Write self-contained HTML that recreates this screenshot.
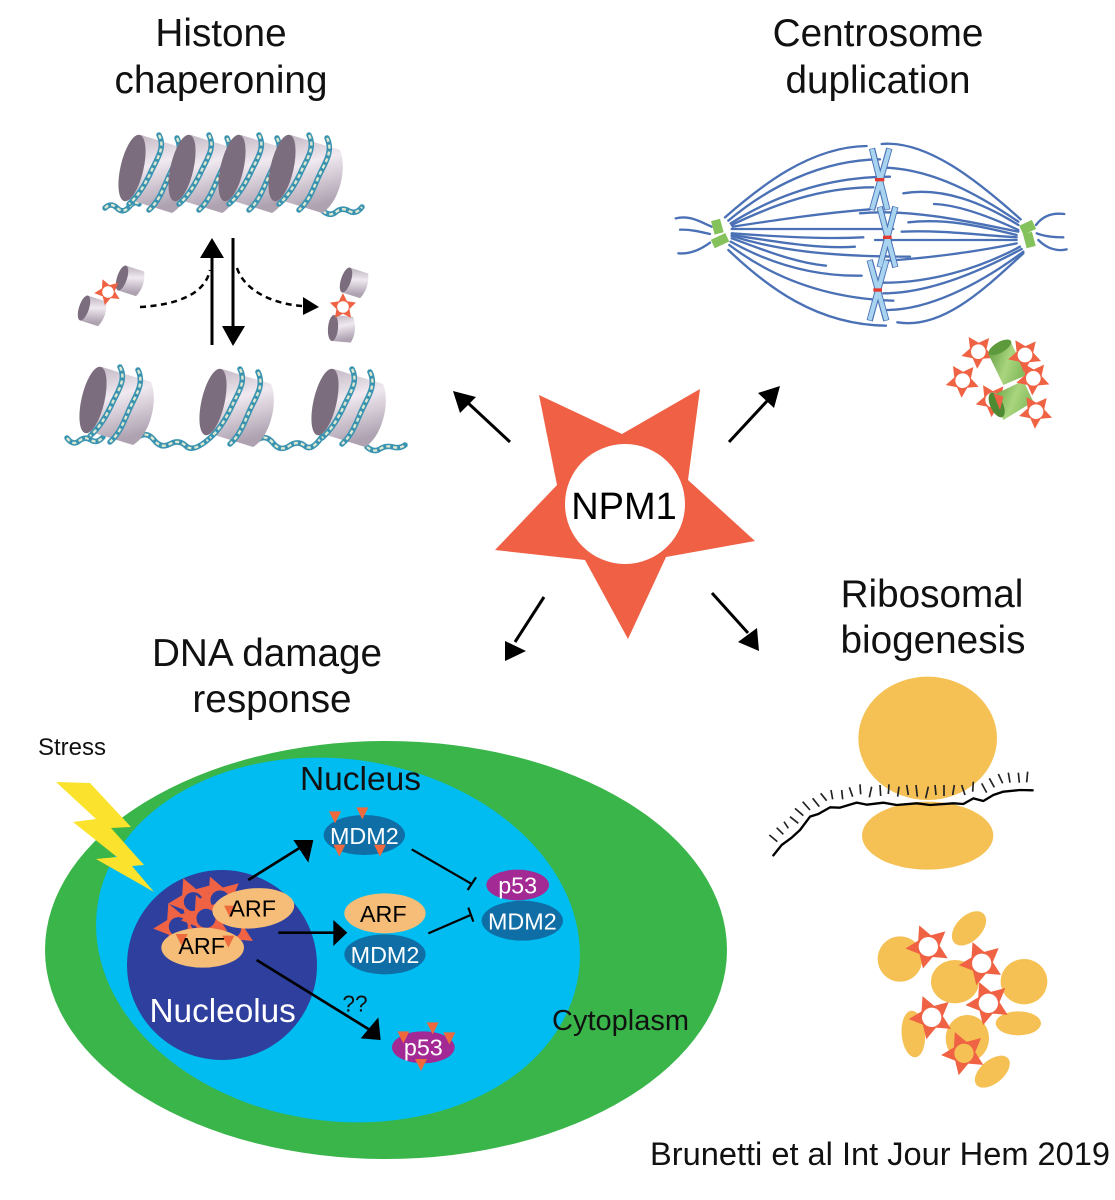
<!DOCTYPE html>
<html>
<head>
<meta charset="utf-8">
<style>
html,body{margin:0;padding:0;background:#fff;width:1115px;height:1200px;overflow:hidden}
svg{display:block}
text{font-family:"Liberation Sans",sans-serif}
.t{font-size:38.7px;fill:#111;text-anchor:middle}
.d1{fill:none;stroke:#3a93b0;stroke-width:5.5;stroke-linecap:round}
.d2{fill:none;stroke:#e0e8d0;stroke-width:2.4;stroke-dasharray:4 3}
.mt{fill:none;stroke:#4a70b5;stroke-width:7;stroke-linecap:round}
.tick{stroke:#222;stroke-width:5}
.blk{stroke:#000;fill:none}
</style>
</head>
<body>
<svg width="1115" height="1200" viewBox="0 0 1115 1200" xmlns="http://www.w3.org/2000/svg">
<defs>
<linearGradient id="cyl" x1="0" y1="0" x2="0.25" y2="1">
<stop offset="0" stop-color="#bdb2bf"/><stop offset=".45" stop-color="#f0e9f0"/><stop offset="1" stop-color="#aea2b1"/>
</linearGradient>
<linearGradient id="grn" x1="0" y1="0" x2="1" y2="0.4">
<stop offset="0" stop-color="#5f9a3e"/><stop offset=".6" stop-color="#a9d57e"/><stop offset="1" stop-color="#86bc5e"/>
</linearGradient>
<g id="nuc">
<path d="M9,-33 L58,-18 C66,2 56,36 40,45 L-8,30 Z" fill="url(#cyl)"/>
<ellipse cx="0" cy="0" rx="11.5" ry="34" transform="rotate(13)" fill="#7b6d7d"/>
<path class="d1" d="M27,-33 C34,-20 24,-8 18,6 C12,18 6,28 -3,36"/>
<path class="d2" d="M27,-33 C34,-20 24,-8 18,6 C12,18 6,28 -3,36"/>
<path class="d1" d="M45,-30 C52,-16 42,-4 36,10 C30,24 26,34 17,42"/>
<path class="d2" d="M45,-30 C52,-16 42,-4 36,10 C30,24 26,34 17,42"/>
</g>
<g id="h">
<path d="M0,-13 L19,-13 Q25,0 19,13 L0,13Z" fill="url(#cyl)"/>
<ellipse rx="5" ry="13" fill="#7b6d7d"/>
</g>
<polygon id="star" points="-86,-109 -3,-70 75,-115 63,-24 130,37 41,53 3,135 -40,56 -130,46 -68,-19" fill="#ef6243"/>
<g id="st"><use href="#star"/><circle r="58" fill="#fff"/></g>
<g id="sb"><use href="#star"/><circle r="52" fill="#2e3f9e"/></g>
<g id="so"><use href="#star"/><circle r="58" fill="#f5c154"/></g>
<polygon id="tri" points="-18,-18 18,-18 0,18" fill="#ee6a3d"/>
</defs>

<rect width="1115" height="1200" fill="#fff"/>

<!-- Titles -->
<text class="t" x="221" y="46">Histone</text>
<text class="t" x="221" y="93">chaperoning</text>
<text class="t" x="878" y="46">Centrosome</text>
<text class="t" x="878" y="93">duplication</text>
<text class="t" x="932" y="607">Ribosomal</text>
<text class="t" x="933" y="653">biogenesis</text>
<text class="t" x="267" y="666">DNA damage</text>
<text class="t" x="272" y="712">response</text>

<!-- Histone chaperoning -->
<path class="d1" d="M105,208 q6,-6 12,0 t12,-1 t10,-3"/>
<path class="d2" d="M105,208 q6,-6 12,0 t12,-1 t10,-3"/>
<path class="d1" d="M323,211 q7,6 13,1 t13,-1 t13,-4"/>
<path class="d2" d="M323,211 q7,6 13,1 t13,-1 t13,-4"/>
<use href="#nuc" x="132" y="168"/>
<use href="#nuc" x="182" y="168"/>
<use href="#nuc" x="232" y="168"/>
<use href="#nuc" x="282" y="168"/>
<path class="d1" d="M67,438 q6,8 12,3 t12,-1 t12,-3"/>
<path class="d2" d="M67,438 q6,8 12,3 t12,-1 t12,-3"/>
<path class="d1" d="M138,437 q9,-6 16,3 t16,4 t16,2 t24,-8"/>
<path class="d2" d="M138,437 q9,-6 16,3 t16,4 t16,2 t24,-8"/>
<path class="d1" d="M257,440 q9,-6 16,3 t16,3 t16,0 t18,-11"/>
<path class="d2" d="M257,440 q9,-6 16,3 t16,3 t16,0 t18,-11"/>
<path class="d1" d="M367,447 q7,6 13,2 t13,-2 t12,-2"/>
<path class="d2" d="M367,447 q7,6 13,2 t13,-2 t12,-2"/>
<use href="#nuc" x="93" y="400"/>
<use href="#nuc" x="213" y="402"/>
<use href="#nuc" x="325" y="402"/>

<line class="blk" x1="212" y1="345" x2="212" y2="255" stroke-width="3"/>
<polygon points="200,258 224,258 212,238"/>
<line class="blk" x1="233" y1="238" x2="233" y2="328" stroke-width="3"/>
<polygon points="222,326 245,326 233,346"/>
<path class="blk" stroke-width="2.5" stroke-dasharray="6 4.5" d="M140,307 C175,305 205,295 210,270"/>
<path class="blk" stroke-width="2.5" stroke-dasharray="6 4.5" d="M237,268 C245,292 275,304 302,306"/>
<polygon points="303,297 303,315 319,307"/>

<g transform="translate(122,278) rotate(18)"><use href="#h"/></g>
<g transform="translate(84,308) rotate(18)"><use href="#h"/></g>
<g transform="translate(108,292) rotate(15) scale(.1)"><use href="#st"/></g>
<g transform="translate(346,280) rotate(18)"><use href="#h"/></g>
<g transform="translate(333,328) rotate(5)"><use href="#h"/></g>
<g transform="translate(343,307) rotate(38) scale(.1)"><use href="#st"/></g>

<!-- Spindle -->
<g transform="translate(660,130) scale(.33333)">
<path class="mt" d="M195,262 C300,170 450,50 620,48"/>
<path class="mt" d="M205,272 C320,175 480,90 660,88"/>
<path class="mt" d="M212,280 C340,200 500,140 690,140"/>
<path class="mt" d="M215,285 C340,225 480,172 640,172"/>
<path class="mt" d="M218,290 C350,270 480,250 630,238"/>
<path class="mt" d="M215,297 L700,297"/>
<path class="mt" d="M215,310 C350,320 500,328 610,322"/>
<path class="mt" d="M215,315 C350,335 480,358 585,350"/>
<path class="mt" d="M215,318 C350,360 500,380 750,380"/>
<path class="mt" d="M215,325 C300,355 400,398 498,407"/>
<path class="mt" d="M212,335 C320,395 450,440 605,437"/>
<path class="mt" d="M208,345 C320,430 480,505 700,512"/>
<path class="mt" d="M205,360 C320,470 470,585 678,587"/>
<path class="mt" d="M665,42 C800,30 950,150 1082,268"/>
<path class="mt" d="M680,113 C820,120 950,190 1075,275"/>
<path class="mt" d="M730,190 C850,170 970,220 1075,285"/>
<path class="mt" d="M822,222 C900,225 1000,265 1075,300"/>
<path class="mt" d="M600,250 C760,235 950,280 1075,305"/>
<path class="mt" d="M745,277 C850,265 950,285 1070,315"/>
<path class="mt" d="M725,305 C850,300 950,315 1070,322"/>
<path class="mt" d="M645,330 L1070,330"/>
<path class="mt" d="M680,392 C800,385 950,365 1070,340"/>
<path class="mt" d="M665,458 C800,460 950,420 1080,350"/>
<path class="mt" d="M670,490 C800,490 950,430 1085,357"/>
<path class="mt" d="M680,540 C800,540 950,470 1090,365"/>
<path class="mt" d="M712,577 C850,600 980,470 1090,370"/>
<path class="mt" d="M47,265 C90,255 120,275 155,290"/>
<path class="mt" d="M60,299 C90,298 120,305 150,312"/>
<path class="mt" d="M55,370 C90,373 120,360 150,338"/>
<path class="mt" d="M1128,285 C1150,255 1180,248 1213,252"/>
<path class="mt" d="M1130,310 C1150,318 1180,322 1210,322"/>
<path class="mt" d="M1135,330 C1160,355 1190,365 1220,358"/>
<g fill="none" stroke-linecap="butt">
<path stroke="#4a70b5" stroke-width="19" d="M636,55 L682,240 M688,55 L636,240 M659,230 L706,412 M706,230 L659,412 M629,390 L679,572 M679,390 L629,572"/>
<path stroke="#a8d4f0" stroke-width="13" d="M636,57 L682,238 M688,57 L636,238 M659,232 L706,410 M706,232 L659,410 M629,392 L679,570 M679,392 L629,570"/>
</g>
<rect x="645" y="144" width="28" height="10" fill="#e23a30"/>
<rect x="669" y="317" width="26" height="10" fill="#e23a30"/>
<rect x="640" y="475" width="26" height="10" fill="#e23a30"/>
<g fill="#86c25c">
<rect x="-14" y="-21" width="28" height="42" transform="translate(172,290) rotate(-15)"/>
<rect x="-24" y="-14" width="48" height="28" transform="translate(180,332) rotate(-25)"/>
<rect x="-21" y="-15" width="42" height="30" transform="translate(1103,292) rotate(-25)"/>
<rect x="-14" y="-22" width="28" height="44" transform="translate(1108,330) rotate(-15)"/>
</g>
<!-- centrosome cluster -->
<g transform="translate(955,665) rotate(5) scale(.38)"><use href="#st"/></g>
<g transform="translate(908,752) rotate(5) scale(.38)"><use href="#st"/></g>
<g transform="translate(998,810) rotate(5) scale(.38)"><use href="#st"/></g>
<path d="M985,672 L1052,635 L1100,735 L1030,765 Z" fill="url(#grn)"/>
<ellipse cx="1020" cy="652" rx="38" ry="16" transform="rotate(-30 1020 652)" fill="#5c9a3c"/>
<path d="M1000,795 L1090,752 L1120,815 L1030,870 Z" fill="url(#grn)"/>
<ellipse cx="1010" cy="825" rx="19" ry="40" transform="rotate(-25 1010 825)" fill="#4d8a32"/>
<g transform="translate(1095,675) rotate(5) scale(.38)"><use href="#st"/></g>
<g transform="translate(1120,745) rotate(5) scale(.38)"><use href="#st"/></g>
<g transform="translate(1128,845) rotate(5) scale(.38)"><use href="#st"/></g>
<path d="M1030,800 L1000,790 L1020,840 Z" fill="#ef6243"/>
</g>

<!-- NPM1 star -->
<polygon points="539,395 622,434 700,389 688,480 755,541 666,557 628,639 585,560 495,550 557,485" fill="#ef6045"/>
<circle cx="625" cy="504" r="60" fill="#fff"/>
<text x="624" y="519" text-anchor="middle" font-size="38" fill="#000">NPM1</text>

<!-- Main arrows -->
<g stroke="#000" stroke-width="3" fill="none">
<line x1="510" y1="442" x2="467" y2="402"/>
<line x1="729" y1="442" x2="768" y2="400"/>
<line x1="544" y1="597" x2="515" y2="642"/>
<line x1="712" y1="593" x2="748" y2="633"/>
</g>
<polygon points="453,391 476,397 460,413"/>
<polygon points="780,386 758,393 774,408"/>
<polygon points="505,661 505,641 526,651"/>
<polygon points="759,651 738,642 757,628"/>

<!-- Cell -->
<ellipse cx="386" cy="950" rx="341" ry="209" fill="#39b54a"/>
<ellipse cx="338" cy="940" rx="243" ry="181" transform="rotate(8 338 940)" fill="#00bcf1"/>
<circle cx="222" cy="965" r="95" fill="#2e3f9e"/>
<polygon points="56,782 90,783 131,827 111,828 144,865 132,866 154,892 96,859 117,857 73,822 96,819" fill="#fbe32d"/>
<text x="38" y="755" font-size="24" fill="#111">Stress</text>
<text x="360.5" y="790" font-size="33.5" fill="#111" text-anchor="middle">Nucleus</text>
<text x="620.5" y="1030" font-size="29" fill="#111" text-anchor="middle">Cytoplasm</text>

<g transform="translate(120,780) scale(.33333)">
<g transform="translate(220,365) rotate(15) scale(.55)"><use href="#sb"/></g>
<g transform="translate(300,360) rotate(15) scale(.55)"><use href="#sb"/></g>
<g transform="translate(175,440) rotate(15) scale(.55)"><use href="#sb"/></g>
<g transform="translate(335,445) rotate(15) scale(.55)"><use href="#sb"/></g>
<g transform="translate(258,415) rotate(15) scale(.55)"><use href="#sb"/></g>
<ellipse cx="400" cy="385" rx="123" ry="60" transform="rotate(-5 400 385)" fill="#f5bd77"/>
<ellipse cx="248" cy="503" rx="124" ry="60" fill="#f5bd77"/>
<use href="#tri" x="330" y="395"/>
<use href="#tri" x="185" y="480"/>
<use href="#tri" x="325" y="485"/>
<text x="398" y="410" text-anchor="middle" font-size="70" fill="#000">ARF</text>
<text x="245" y="522" text-anchor="middle" font-size="70" fill="#000">ARF</text>
<text x="308" y="726" text-anchor="middle" font-size="100" fill="#fff">Nucleolus</text>

<ellipse cx="733" cy="165" rx="122" ry="60" fill="#0f6ea6"/>
<text x="733" y="192" text-anchor="middle" font-size="70" fill="#fff">MDM2</text>
<use href="#tri" x="645" y="112"/>
<use href="#tri" x="727" y="100"/>
<use href="#tri" x="658" y="212"/>
<use href="#tri" x="780" y="212"/>

<ellipse cx="795" cy="400" rx="122" ry="60" fill="#f5bd77"/>
<text x="790" y="426" text-anchor="middle" font-size="70" fill="#000">ARF</text>
<ellipse cx="795" cy="523" rx="122" ry="60" fill="#0f6ea6"/>
<text x="795" y="549" text-anchor="middle" font-size="70" fill="#fff">MDM2</text>

<ellipse cx="1207" cy="422" rx="122" ry="60" fill="#0f6ea6"/>
<text x="1207" y="449" text-anchor="middle" font-size="70" fill="#fff">MDM2</text>
<ellipse cx="1193" cy="315" rx="94" ry="46" fill="#a32a94"/>
<text x="1193" y="340" text-anchor="middle" font-size="70" fill="#fff">p53</text>

<ellipse cx="910" cy="802" rx="94" ry="48" fill="#a32a94"/>
<use href="#tri" x="850" y="772"/>
<use href="#tri" x="938" y="745"/>
<use href="#tri" x="988" y="775"/>
<use href="#tri" x="903" y="855"/>
<text x="910" y="826" text-anchor="middle" font-size="70" fill="#fff">p53</text>

<g stroke="#000" fill="none" stroke-width="8">
<line x1="385" y1="300" x2="545" y2="200"/>
<line x1="475" y1="458" x2="645" y2="458"/>
<line x1="410" y1="540" x2="750" y2="750"/>
</g>
<polygon points="580,180 520,180 565,248"/>
<polygon points="682,458 640,420 640,498"/>
<polygon points="782,780 722,775 775,712"/>
<g stroke="#000" fill="none" stroke-width="6.5">
<line x1="875" y1="208" x2="1055" y2="312"/>
<line x1="1043" y1="330" x2="1068" y2="292"/>
<line x1="925" y1="460" x2="1052" y2="405"/>
<line x1="1045" y1="383" x2="1060" y2="425"/>
</g>
<text x="705" y="694" text-anchor="middle" font-size="68" fill="#111">??</text>
</g>

<!-- Ribosome -->
<g transform="translate(760,670) scale(.33333)">
<ellipse cx="503" cy="205" rx="208" ry="185" fill="#f5c154"/>
<ellipse cx="503" cy="497" rx="197" ry="102" fill="#f5c154"/>
<path d="M40,556 L65,525 L95,503 L120,480 L150,440 L175,432 L210,412 L240,413 L290,398 L320,404 L370,398 L410,405 L470,400 L510,405 L580,400 L610,402 L640,385 L670,393 L700,375 L730,365 L780,360 L818,361" fill="none" stroke="#000" stroke-width="7" stroke-linejoin="round" stroke-linecap="round"/>
<path class="tick" d="M28,495L52,515M50,473L70,493M72,455L85,475M90,440L115,460M105,415L130,437M128,395L150,420M158,385L178,410M182,370L200,392M213,360L218,388M245,360L248,388M268,352L278,380M300,343L302,373M335,350L328,382M360,345L362,378M387,343L385,372M417,350L413,380M440,345L445,375M468,345L472,380M505,350L497,385M525,345L528,375M552,345L552,378M583,345L578,375M605,345L615,375M640,335L638,365M665,340L680,368M688,325L703,352M715,312L728,340M745,308L750,338M775,308L778,338M803,305L800,337"/>
<g fill="#f5c154">
<ellipse cx="420" cy="867" rx="67" ry="68"/>
<ellipse cx="627" cy="775" rx="62" ry="38" transform="rotate(-45 627 775)"/>
<ellipse cx="585" cy="935" rx="72" ry="65"/>
<ellipse cx="792" cy="935" rx="70" ry="68"/>
<ellipse cx="775" cy="1060" rx="68" ry="36"/>
<ellipse cx="460" cy="1092" rx="35" ry="70" transform="rotate(-5 460 1092)"/>
<ellipse cx="622" cy="1105" rx="65" ry="70"/>
<ellipse cx="697" cy="1205" rx="62" ry="35" transform="rotate(-40 697 1205)"/>
</g>
<g transform="translate(505,830) rotate(15) scale(.5)"><use href="#st"/></g>
<g transform="translate(665,880) rotate(15) scale(.5)"><use href="#st"/></g>
<g transform="translate(685,1000) rotate(15) scale(.5)"><use href="#st"/></g>
<g transform="translate(515,1042) rotate(15) scale(.5)"><use href="#st"/></g>
<g transform="translate(612,1150) rotate(15) scale(.5)"><use href="#so"/></g>
</g>

<!-- Citation -->
<text x="650" y="1165" font-size="32" fill="#111" textLength="460" lengthAdjust="spacingAndGlyphs">Brunetti et al Int Jour Hem 2019</text>
</svg>
</body>
</html>
